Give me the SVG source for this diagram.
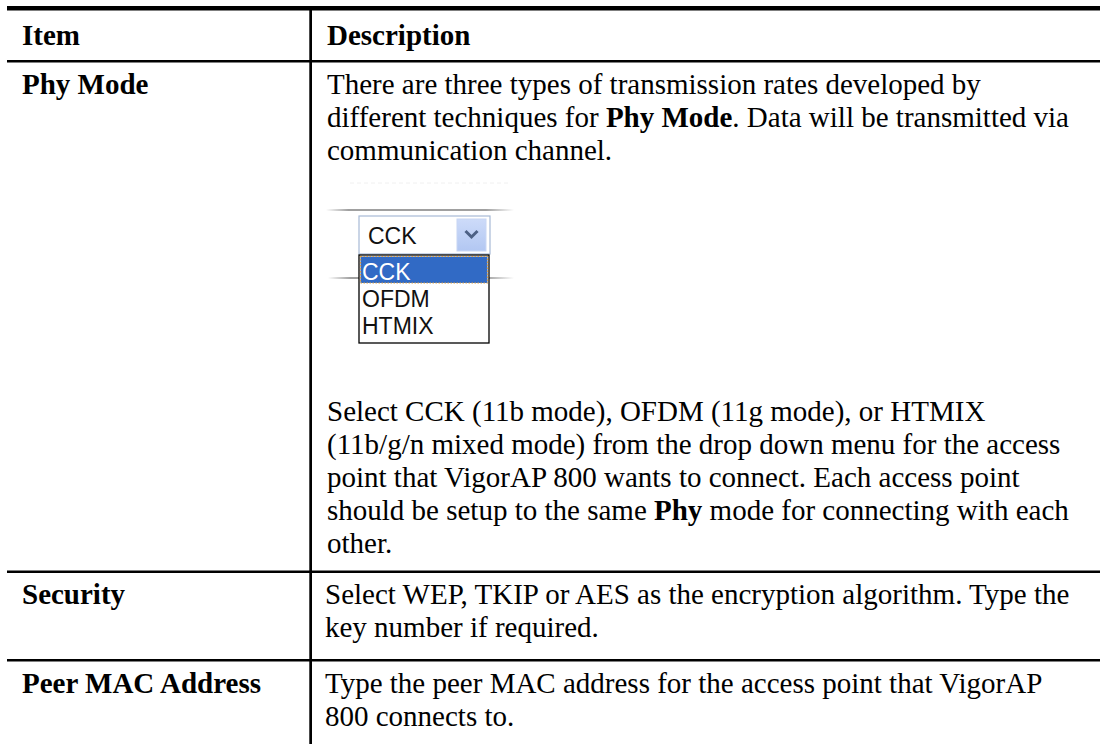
<svg xmlns="http://www.w3.org/2000/svg" width="1100" height="744" viewBox="0 0 1100 744">
<style>
.t{font-family:"Liberation Serif","Times New Roman",serif;font-size:29px;fill:#000}
.b{font-weight:bold}
.s{font-family:"Liberation Sans",Tahoma,sans-serif;font-size:23px;fill:#111}
.w{fill:#fff}
</style>
<defs>
<linearGradient id="gl" x1="0" x2="1" y1="0" y2="0">
<stop offset="0" stop-color="#ffffff"/><stop offset="0.12" stop-color="#a0a0a0"/><stop offset="0.85" stop-color="#a0a0a0"/><stop offset="1" stop-color="#ffffff"/>
</linearGradient>
<linearGradient id="btn" x1="0" x2="0" y1="0" y2="1">
<stop offset="0" stop-color="#cddbf9"/><stop offset="1" stop-color="#b2c7f2"/>
</linearGradient>
</defs>
<rect width="1100" height="744" fill="#fff"/>
<g id="grid">
<rect x="7" y="6" width="1093" height="4.5" fill="#000"/>
<rect x="7" y="60" width="1093" height="2.5" fill="#000"/>
<rect x="7" y="570.5" width="1093" height="2.5" fill="#000"/>
<rect x="7" y="659" width="1093" height="2.5" fill="#000"/>
<rect x="309.3" y="10" width="2.7" height="734" fill="#000"/>
</g>
<g id="header">
<text class="t b" x="22" y="45">Item</text>
<text class="t b" x="327" y="45">Description</text>
</g>
<g id="row-phy">
<text class="t b" x="22" y="94">Phy Mode</text>
<text class="t" x="327" y="94">There are three types of transmission rates developed by</text>
<text class="t" x="327" y="127">different techniques for <tspan class="b">Phy Mode</tspan>. Data will be transmitted via</text>
<text class="t" x="327" y="160">communication channel.</text>
<g id="dropdown">
<line x1="350" y1="183" x2="510" y2="183" stroke="#f0f0f0" stroke-width="1" stroke-dasharray="4 3"/>
<rect x="326" y="209" width="188" height="2" fill="url(#gl)"/>
<rect x="328" y="277" width="186" height="2" fill="url(#gl)"/>
<rect x="359" y="216" width="131" height="38" fill="#fff" stroke="#a7bad6" stroke-width="1.2"/>
<rect x="457" y="219" width="29" height="32" fill="url(#btn)" stroke="#c8d6f4" stroke-width="1"/>
<path d="M465.5 231 L471.5 237 L477.5 231" fill="none" stroke="#4d6185" stroke-width="3"/>
<text class="s" x="368" y="244">CCK</text>
<rect x="359" y="255" width="130" height="88" fill="#fff" stroke="#000" stroke-width="1.3"/>
<rect x="360.5" y="256.5" width="127" height="26.5" fill="#316ac5" stroke="#e0a040" stroke-width="1.2" stroke-dasharray="1.5 1.5"/>
<text class="s w" x="362" y="280">CCK</text>
<text class="s" x="362" y="307">OFDM</text>
<text class="s" x="362" y="334">HTMIX</text>
</g>
<text class="t" x="327" y="421">Select CCK (11b mode), OFDM (11g mode), or HTMIX</text>
<text class="t" x="327" y="454">(11b/g/n mixed mode) from the drop down menu for the access</text>
<text class="t" x="327" y="487">point that VigorAP 800 wants to connect. Each access point</text>
<text class="t" x="327" y="520">should be setup to the same <tspan class="b">Phy</tspan> mode for connecting with each</text>
<text class="t" x="327" y="553">other.</text>
</g>
<g id="row-security">
<text class="t b" x="22" y="604">Security</text>
<text class="t" x="325" y="604">Select WEP, TKIP or AES as the encryption algorithm. Type the</text>
<text class="t" x="325" y="637">key number if required.</text>
</g>
<g id="row-peer">
<text class="t b" x="22" y="693">Peer MAC Address</text>
<text class="t" x="325" y="693">Type the peer MAC address for the access point that VigorAP</text>
<text class="t" x="325" y="726">800 connects to.</text>
</g>
</svg>
